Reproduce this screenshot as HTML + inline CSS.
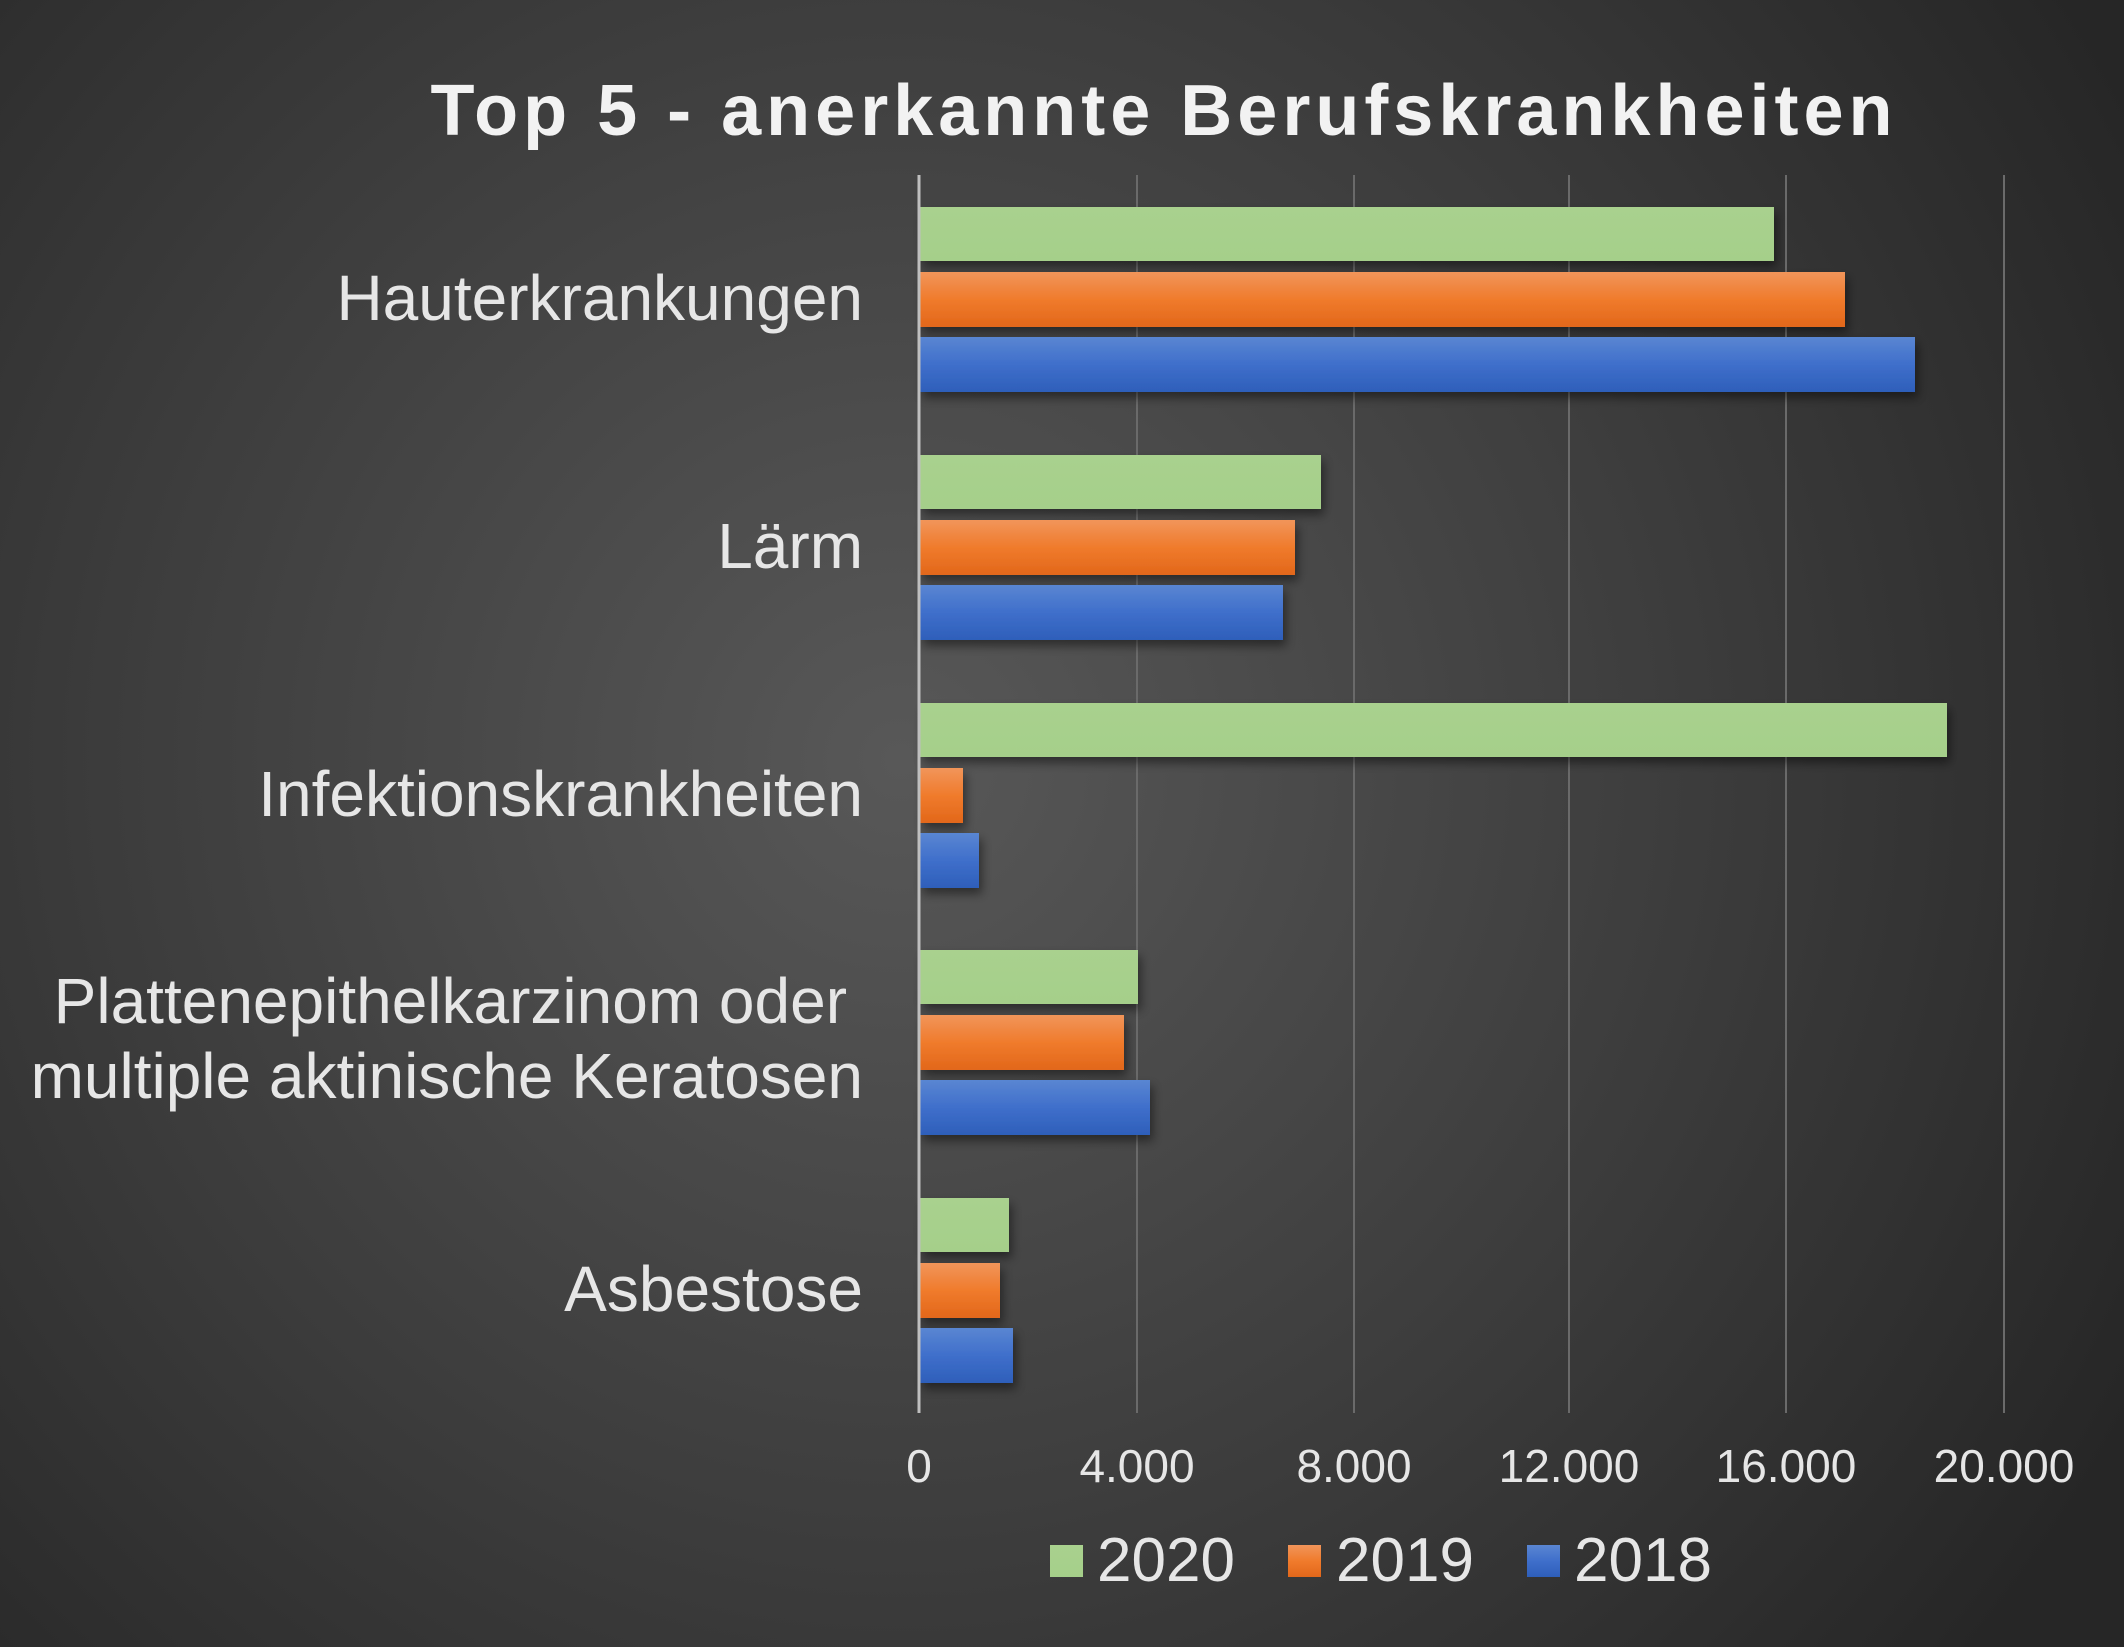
<!DOCTYPE html>
<html><head><meta charset="utf-8"><style>
html,body{margin:0;padding:0;}
body{width:2124px;height:1647px;overflow:hidden;}
</style></head><body>
<svg width="2124" height="1647" viewBox="0 0 2124 1647" xmlns="http://www.w3.org/2000/svg" font-family="Liberation Sans, Arial, sans-serif">
<defs>
<radialGradient id="bg" cx="900" cy="760" r="1400" gradientUnits="userSpaceOnUse">
<stop offset="0" stop-color="#585858"/>
<stop offset="0.55" stop-color="#3d3d3d"/>
<stop offset="1" stop-color="#262626"/>
</radialGradient>
<linearGradient id="gG" x1="0" y1="0" x2="0" y2="1"><stop offset="0" stop-color="#a9d18e"/><stop offset="1" stop-color="#a5cf8a"/></linearGradient>
<linearGradient id="gO" x1="0" y1="0" x2="0" y2="1"><stop offset="0" stop-color="#f1955a"/><stop offset="0.5" stop-color="#f07b2c"/><stop offset="1" stop-color="#e2671a"/></linearGradient>
<linearGradient id="gB" x1="0" y1="0" x2="0" y2="1"><stop offset="0" stop-color="#5a86d2"/><stop offset="0.5" stop-color="#3f6fcb"/><stop offset="1" stop-color="#2e5fba"/></linearGradient>
<filter id="sh" x="-5%" y="-20%" width="110%" height="160%"><feDropShadow dx="3" dy="6" stdDeviation="5" flood-color="#000" flood-opacity="0.45"/></filter>
</defs>
<rect width="2124" height="1647" fill="url(#bg)"/>
<text x="1164" y="135" text-anchor="middle" font-size="72" font-weight="bold" fill="#f2f2f2" letter-spacing="5">Top 5 - anerkannte Berufskrankheiten</text>
<g stroke="#6a6a6a" stroke-width="2">
<line x1="1137" y1="175" x2="1137" y2="1413"/>
<line x1="1354" y1="175" x2="1354" y2="1413"/>
<line x1="1569" y1="175" x2="1569" y2="1413"/>
<line x1="1786" y1="175" x2="1786" y2="1413"/>
<line x1="2004" y1="175" x2="2004" y2="1413"/>
</g>
<g filter="url(#sh)">
<rect x="920" y="207" width="854" height="54" fill="url(#gG)"/>
<rect x="920" y="272" width="925" height="55" fill="url(#gO)"/>
<rect x="920" y="337" width="995" height="55" fill="url(#gB)"/>
<rect x="920" y="455" width="401" height="54" fill="url(#gG)"/>
<rect x="920" y="520" width="375" height="55" fill="url(#gO)"/>
<rect x="920" y="585" width="363" height="55" fill="url(#gB)"/>
<rect x="920" y="703" width="1027" height="54" fill="url(#gG)"/>
<rect x="920" y="768" width="43" height="55" fill="url(#gO)"/>
<rect x="920" y="833" width="59" height="55" fill="url(#gB)"/>
<rect x="920" y="950" width="218" height="54" fill="url(#gG)"/>
<rect x="920" y="1015" width="204" height="55" fill="url(#gO)"/>
<rect x="920" y="1080" width="230" height="55" fill="url(#gB)"/>
<rect x="920" y="1198" width="89" height="54" fill="url(#gG)"/>
<rect x="920" y="1263" width="80" height="55" fill="url(#gO)"/>
<rect x="920" y="1328" width="93" height="55" fill="url(#gB)"/>
</g>
<line x1="919" y1="175" x2="919" y2="1413" stroke="#bfbfbf" stroke-width="3"/>
<g fill="#e6e6e6" font-size="64" text-anchor="end">
<text x="863" y="320">Hauterkrankungen</text>
<text x="863" y="568">Lärm</text>
<text x="863" y="816">Infektionskrankheiten</text>
<text x="847" y="1023">Plattenepithelkarzinom oder</text>
<text x="863" y="1098">multiple aktinische Keratosen</text>
<text x="863" y="1311">Asbestose</text>
</g>
<g fill="#e6e6e6" font-size="46" text-anchor="middle">
<text x="919" y="1482">0</text>
<text x="1137" y="1482">4.000</text>
<text x="1354" y="1482">8.000</text>
<text x="1569" y="1482">12.000</text>
<text x="1786" y="1482">16.000</text>
<text x="2004" y="1482">20.000</text>
</g>
<rect x="1050" y="1545" width="33" height="32" fill="url(#gG)"/>
<rect x="1288" y="1545" width="33" height="32" fill="url(#gO)"/>
<rect x="1527" y="1545" width="33" height="32" fill="url(#gB)"/>
<g fill="#e6e6e6" font-size="62">
<text x="1097" y="1581">2020</text>
<text x="1336" y="1581">2019</text>
<text x="1574" y="1581">2018</text>
</g>
</svg>
</body></html>
